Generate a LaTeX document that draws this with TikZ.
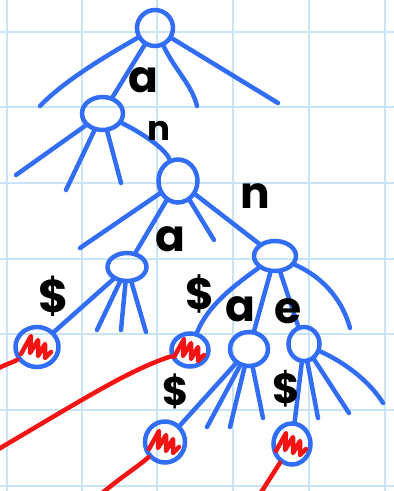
\documentclass[tikz,border=0pt]{standalone}
\usepackage{fontspec}
\setmainfont{Poppins}
\usetikzlibrary{shapes.geometric,calc}
\definecolor{gridc}{RGB}{200,228,246}
\definecolor{penblue}{RGB}{50,110,245}
\definecolor{penred}{RGB}{245,20,20}
\newcommand\myscribble[1]{\draw[scrib] (#1.center) ++(-16,7) -- ++(10,-18) -- ++(-1,17) -- ++(8,-13) -- ++(0,16) -- ++(7,-12) -- ++(0,14) -- ++(6,-6);}
\begin{document}
\begin{tikzpicture}[x=1pt,y=-1pt,
 gridline/.style={gridc,line width=2.5pt},
 trienode/.style={draw=penblue,line width=4.5pt,ellipse,inner sep=0pt},
 edge/.style={penblue,line width=4.5pt,line cap=round},
 redline/.style={penred,line width=4.5pt,line cap=round},
 scrib/.style={penred,line width=4.5pt,line cap=round,line join=round},
 lab/.style={inner sep=0pt,text=black}
]
\fill[white] (0,0) rectangle (394,491);
\useasboundingbox (0,0) rectangle (394,491);
\foreach \x in {7,82,157,233,309,385} \draw[gridline] (\x,0) -- (\x,491);
\foreach \y in {32,107,183,259,334,410,486} \draw[gridline] (0,\y) -- (394,\y);

% nodes
\node[trienode,minimum width=36pt,minimum height=36pt] (r) at (155,28) {};
\node[trienode,minimum width=41pt,minimum height=33pt] (n2) at (102.5,113.5) {};
\node[trienode,minimum width=39pt,minimum height=43pt] (n3) at (178,181) {};
\node[trienode,minimum width=39pt,minimum height=28pt] (n4) at (127,267) {};
\node[trienode,minimum width=43pt,minimum height=40pt] (l1) at (37,347) {};
\node[trienode,minimum width=42pt,minimum height=30pt] (n5) at (275,256) {};
\node[trienode,minimum width=37pt,minimum height=33pt] (l2) at (190,350) {};
\node[trienode,minimum width=38pt,minimum height=34pt] (n6) at (249,349) {};
\node[trienode,minimum width=40pt,minimum height=41pt] (l3) at (165,442) {};
\node[trienode,minimum width=31pt,minimum height=34pt] (n7) at (304,344) {};
\node[trienode,minimum width=37pt,minimum height=41pt] (l4) at (292,444) {};

% free ends
\coordinate (c1) at (40,106);
\coordinate (c2) at (197,106);
\coordinate (c3) at (278,103);
\coordinate (c4) at (16,175);
\coordinate (c5) at (66,190);
\coordinate (c6) at (121,183);
\coordinate (c7) at (80,248);
\coordinate (c8) at (214,240);
\coordinate (c9) at (97,330);
\coordinate (c10) at (121,330);
\coordinate (c11) at (146,332);
\coordinate (c12) at (350,328);
\coordinate (c13) at (207,427);
\coordinate (c14) at (230,427);
\coordinate (c15) at (263,418);
\coordinate (c16) at (318,418);
\coordinate (c17) at (349,413);
\coordinate (c18) at (383,403);
\coordinate (e1) at (-3,369);
\coordinate (e2) at (-3,450);
\coordinate (e3) at (101,494);
\coordinate (e4) at (260,494);

% red tails and scribbles
\draw[redline] (l1) .. controls (14,362) and (6,364) .. (e1);
\draw[redline] (l2) .. controls (130,370) and (90,395) .. (e2);
\draw[redline] (l3) .. controls (140,465) and (120,478) .. (e3);
\draw[redline] (l4) -- (e4);
\myscribble{l1}
\myscribble{l2}
\myscribble{l3}
\myscribble{l4}

% edges
\draw[edge] (r) .. controls (95,62) and (60,85) .. (c1);
\draw[edge] (r) -- (n2);
\draw[edge] (r) .. controls (175,70) and (192,85) .. (c2);
\draw[edge] (r) -- (c3);
\draw[edge] (n2) -- (c4);
\draw[edge] (n2) -- (c5);
\draw[edge] (n2) -- (c6);
\draw[edge] (n2) .. controls (140,132) and (165,148) .. (n3);
\draw[edge] (n3) -- (c7);
\draw[edge] (n3) -- (n4);
\draw[edge] (n3) -- (c8);
\draw[edge] (n3) -- (n5);
\draw[edge] (n4) -- (l1);
\draw[edge] (n4) -- (c9);
\draw[edge] (n4) -- (c10);
\draw[edge] (n4) -- (c11);
\draw[edge] (n5) .. controls (235,285) and (208,305) .. (l2);
\draw[edge] (n5) -- (n6);
\draw[edge] (n5) -- (n7);
\draw[edge] (n5) .. controls (325,278) and (343,302) .. (c12);
\draw[edge] (n6) -- (l3);
\draw[edge] (n6) -- (c13);
\draw[edge] (n6) -- (c14);
\draw[edge] (n6) -- (c15);
\draw[edge] (n7) -- (l4);
\draw[edge] (n7) -- (c16);
\draw[edge] (n7) -- (c17);
\draw[edge] (n7) .. controls (350,365) and (372,385) .. (c18);

% labels
\node[lab,font=\bfseries\fontsize{44}{44}\selectfont] (la1) at (143,80) {a};
\node[lab,font=\bfseries\fontsize{34}{34}\selectfont] (ln1) at (159,131) {n};
\node[lab,font=\bfseries\fontsize{44}{44}\selectfont] (ln2) at (255,196) {n};
\node[lab,font=\bfseries\fontsize{44}{44}\selectfont] (la2) at (170,239) {a};
\node[lab,font=\bfseries\fontsize{46}{46}\selectfont] (ld1) at (54,296) {\$};
\node[lab,font=\bfseries\fontsize{44}{44}\selectfont] (ld2) at (200,294) {\$};
\node[lab,font=\bfseries\fontsize{44}{44}\selectfont] (la3) at (240,309) {a};
\node[lab,font=\bfseries\fontsize{44}{44}\selectfont] (le) at (288,311) {e};
\node[lab,font=\bfseries\fontsize{40}{40}\selectfont] (ld3) at (176,391) {\$};
\node[lab,font=\bfseries\fontsize{42}{42}\selectfont] (ld4) at (286,389) {\$};
\end{tikzpicture}
\end{document}
